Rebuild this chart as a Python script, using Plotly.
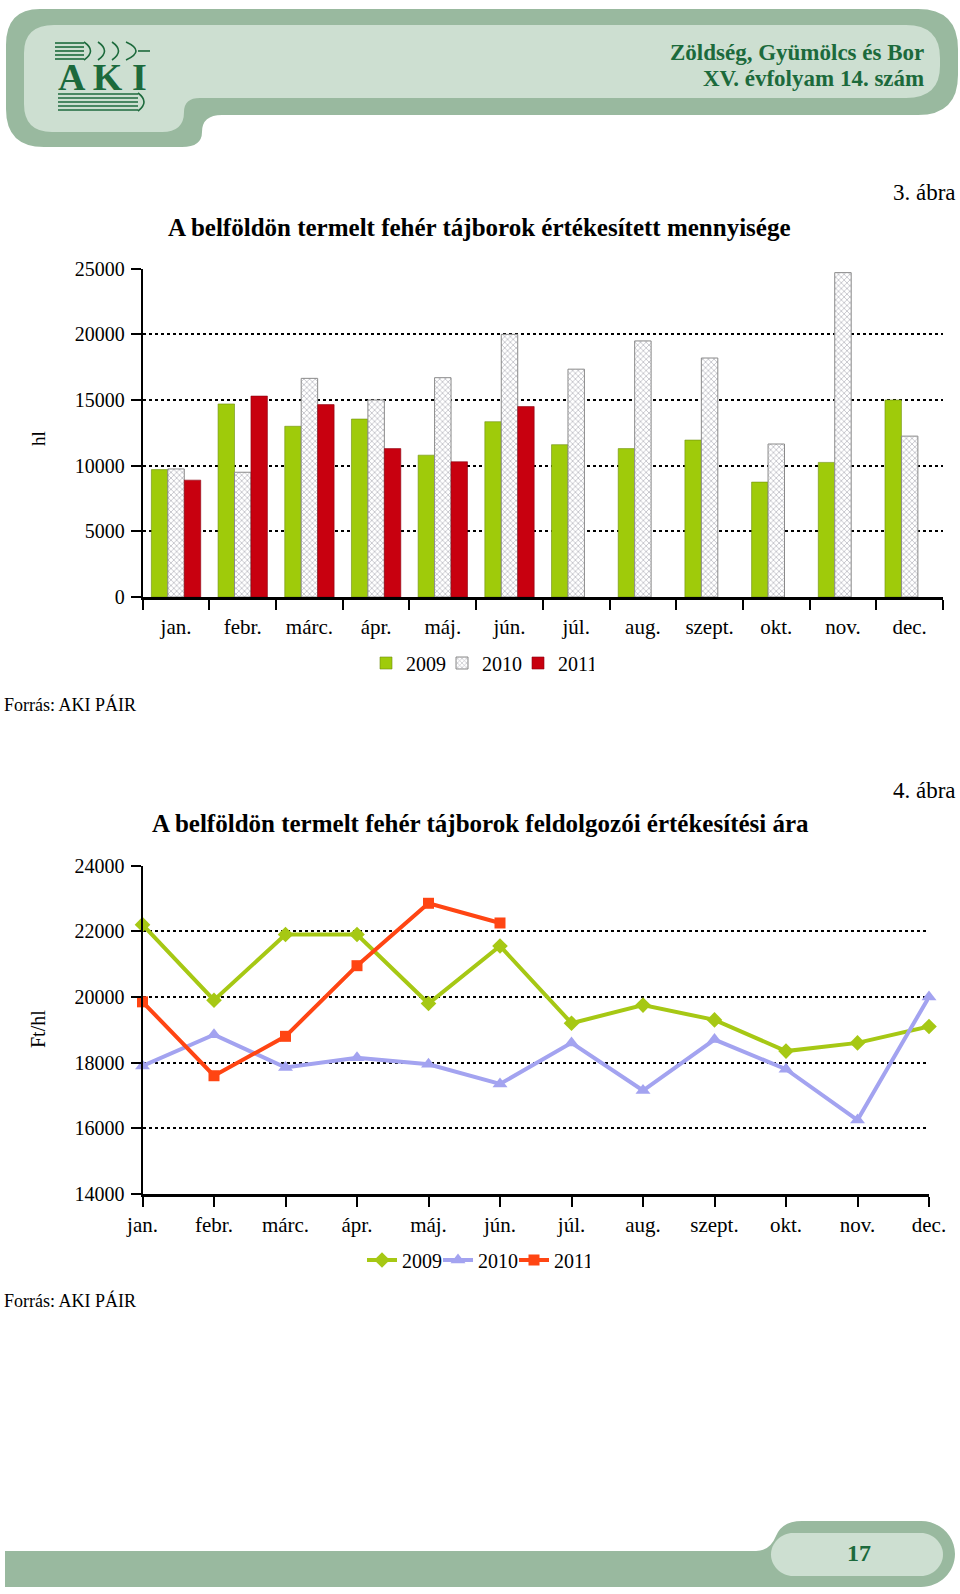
import plotly.graph_objects as go

# ---------------- data ----------------
months = ["jan.", "febr.", "márc.", "ápr.", "máj.", "jún.", "júl.", "aug.",
          "szept.", "okt.", "nov.", "dec."]
years = ["2009", "2010", "2011"]

vol_2009 = [9700, 14700, 13000, 13550, 10800, 13350, 11600, 11300, 11950, 8750, 10250, 15000]
vol_2010 = [9750, 9500, 16650, 15000, 16700, 20000, 17350, 19500, 18200, 11650, 24700, 12250]
vol_2011 = [8900, 15300, 14650, 11300, 10300, 14500, None, None, None, None, None, None]

price_2009 = [22200, 19900, 21900, 21900, 19800, 21550, 19200, 19750, 19300, 18350, 18600, 19100]
price_2010 = [17900, 18850, 17850, 18150, 17950, 17350, 18600, 17150, 18700, 17800, 16250, 20000]
price_2011 = [19850, 17600, 18800, 20950, 22850, 22250, None, None, None, None, None, None]

vol_ticks = [0, 5000, 10000, 15000, 20000, 25000]
price_ticks = [14000, 16000, 18000, 20000, 22000, 24000]

title1 = "A belföldön termelt fehér tájborok értékesített mennyisége"
title2 = "A belföldön termelt fehér tájborok feldolgozói értékesítési ára"

# ---------------- layout helpers ----------------
W, H = 960, 1594
FONT = "Liberation Serif"
DKGREEN = "#1c6a3c"
OUTER = "#99b99f"
INNER = "#cddfd1"


def fx(x):
    return x / W


def fy(y):
    return 1 - y / H


def path(cmds, close=True):
    s = ""
    for c in cmds:
        s += c[0]
        for (x, y) in c[1:]:
            s += f"{fx(x):.5f},{fy(y):.5f} "
    return s + ("Z" if close else "")


fig = go.Figure()

# ---------------- bar chart ----------------
fig.add_trace(go.Bar(x=months, y=vol_2009, name=years[0], legend="legend",
                     marker=dict(color="#9fcb0a", line=dict(color="#6f8f10", width=0.6)),
                     xaxis="x", yaxis="y"))
fig.add_trace(go.Bar(x=months, y=vol_2010, name=years[1], legend="legend",
                     marker=dict(color="white", line=dict(color="#8a8a8a", width=1),
                                 pattern=dict(shape="x", fgcolor="#5c5c6c", bgcolor="white",
                                              size=4, solidity=0.3)),
                     xaxis="x", yaxis="y"))
fig.add_trace(go.Bar(x=months, y=vol_2011, name=years[2], legend="legend",
                     marker=dict(color="#c8000f", line=dict(color="#8a0010", width=0.6)),
                     xaxis="x", yaxis="y"))

# ---------------- line chart ----------------
fig.add_trace(go.Scatter(x=months, y=price_2009, name=years[0], legend="legend2",
                         mode="lines+markers", cliponaxis=False,
                         line=dict(color="#a6c814", width=4),
                         marker=dict(symbol="diamond", size=12, color="#a6c814"),
                         xaxis="x2", yaxis="y2"))
fig.add_trace(go.Scatter(x=months, y=price_2010, name=years[1], legend="legend2",
                         mode="lines+markers", cliponaxis=False,
                         line=dict(color="#a3a3f0", width=4),
                         marker=dict(symbol="triangle-up", size=13, color="#a3a3f0"),
                         xaxis="x2", yaxis="y2"))
fig.add_trace(go.Scatter(x=months, y=price_2011, name=years[2], legend="legend2",
                         mode="lines+markers", cliponaxis=False,
                         line=dict(color="#ff4513", width=4),
                         marker=dict(symbol="square", size=11, color="#ff4513"),
                         xaxis="x2", yaxis="y2"))

tickfont = dict(family=FONT, size=20, color="black")
xtickfont = dict(family=FONT, size=21, color="black")

yaxis_common = dict(showgrid=True, gridcolor="black", gridwidth=2, griddash="dot",
                    showline=True, linecolor="black", linewidth=2, zeroline=False,
                    ticks="outside", ticklen=10, tickcolor="black", tickwidth=2,
                    tickfont=tickfont, ticklabelstandoff=2, fixedrange=True,
                    tickformat="d", automargin=False)
xaxis_common = dict(showgrid=False, showline=True, linecolor="black", linewidth=3,
                    ticks="outside", ticklen=10, tickcolor="black", tickwidth=2,
                    tickfont=xtickfont, zeroline=False, fixedrange=True, automargin=False)

legend_common = dict(orientation="h", xanchor="center", yanchor="middle",
                     font=dict(family=FONT, size=20, color="black"), itemwidth=30,
                     entrywidth=31, entrywidthmode="pixels",
                     bgcolor="rgba(0,0,0,0)", traceorder="normal")

fig.update_layout(
    width=W, height=H,
    margin=dict(l=0, r=0, t=0, b=0, pad=0, autoexpand=False),
    paper_bgcolor="white", plot_bgcolor="rgba(0,0,0,0)",
    font=dict(family=FONT, color="black"),
    barmode="group", bargap=0.26, bargroupgap=0,
    xaxis=dict(domain=[fx(142.7), fx(943)], anchor="y", type="category",
               categoryorder="array", categoryarray=months, tickson="boundaries",
               ticklabelstandoff=9, **xaxis_common),
    yaxis=dict(domain=[fy(597), fy(268.7)], anchor="x", range=[0, 25000],
               tickvals=vol_ticks, **yaxis_common),
    xaxis2=dict(domain=[fx(142.5), fx(929)], anchor="y2", type="category",
                categoryorder="array", categoryarray=months, range=[0, 11],
                **xaxis_common),
    yaxis2=dict(domain=[fy(1194), fy(865.5)], anchor="x2", range=[14000, 24000],
                tickvals=price_ticks, **yaxis_common),
    legend=dict(x=fx(480), y=fy(663), **legend_common),
    legend2=dict(x=fx(476), y=fy(1260), **legend_common),
)

# ---------------- decorations (header / footer) ----------------
shapes = []
header_outer = [("M", (40, 9)), ("L", (918, 9)), ("Q", (958, 9), (958, 49)), ("L", (958, 75)),
                ("Q", (958, 115), (918, 115)), ("L", (222, 115)), ("Q", (202, 115), (202, 132)),
                ("Q", (202, 147), (182, 147)), ("L", (44, 147)), ("Q", (6, 147), (6, 109)),
                ("L", (6, 45)), ("Q", (6, 9), (40, 9))]
header_inner = [("M", (54, 25)), ("L", (906, 25)), ("Q", (940, 25), (940, 58)), ("L", (940, 66)),
                ("Q", (940, 98), (906, 98)), ("L", (200, 98)), ("Q", (184, 98), (184, 112)),
                ("Q", (184, 132), (162, 132)), ("L", (52, 132)), ("Q", (24, 132), (24, 104)),
                ("L", (24, 53)), ("Q", (24, 25), (54, 25))]
footer_outer = [("M", (5, 1551)), ("L", (756, 1551)), ("Q", (770, 1551), (776, 1536)),
                ("Q", (782, 1521), (802, 1521)), ("L", (921, 1521)),
                ("C", (940, 1521), (955, 1536), (955, 1554)),
                ("C", (955, 1572), (940, 1587), (921, 1587)), ("L", (5, 1587))]
footer_inner = [("M", (793, 1533)), ("L", (921, 1533)), ("C", (933, 1533), (943, 1543), (943, 1554.5)),
                ("C", (943, 1566), (933, 1576), (921, 1576)), ("L", (793, 1576)),
                ("C", (781, 1576), (771, 1566), (771, 1554.5)), ("C", (771, 1543), (781, 1533), (793, 1533))]
for p, col in [(header_outer, OUTER), (header_inner, INNER), (footer_outer, OUTER), (footer_inner, INNER)]:
    shapes.append(dict(type="path", xref="paper", yref="paper", path=path(p),
                       fillcolor=col, line=dict(width=0), layer="below"))

# logo: wheat lines, chevrons, book lines
logo_line = dict(color=DKGREEN, width=1.6)
for yy in [43, 47, 51, 55, 59]:
    shapes.append(dict(type="path", xref="paper", yref="paper",
                       path=path([("M", (55, yy)), ("L", (84, yy))], close=False), line=logo_line))
for x0 in [84, 98, 112]:
    shapes.append(dict(type="path", xref="paper", yref="paper",
                       path=path([("M", (x0, 42)), ("Q", (x0 + 13, 51), (x0, 60))], close=False),
                       line=logo_line))
shapes.append(dict(type="path", xref="paper", yref="paper",
                   path=path([("M", (126, 42)), ("Q", (146, 51), (126, 60))], close=False), line=logo_line))
shapes.append(dict(type="path", xref="paper", yref="paper",
                   path=path([("M", (138, 51)), ("L", (150, 51))], close=False), line=logo_line))
for yy in [94, 98, 102, 106, 110]:
    shapes.append(dict(type="path", xref="paper", yref="paper",
                       path=path([("M", (58, yy)), ("L", (138, yy))], close=False), line=logo_line))
shapes.append(dict(type="path", xref="paper", yref="paper",
                   path=path([("M", (138, 93)), ("Q", (150, 102), (138, 111))], close=False), line=logo_line))
fig.update_layout(shapes=shapes)

# ---------------- texts ----------------
def ann(text, x, y, size, xanchor="center", bold=False, color="black", angle=0):
    if bold:
        text = f"<b>{text}</b>"
    fig.add_annotation(text=text, x=fx(x), y=fy(y), xref="paper", yref="paper",
                       xanchor=xanchor, yanchor="middle", showarrow=False, textangle=angle,
                       font=dict(family=FONT, size=size, color=color))


ann("Zöldség, Gyümölcs és Bor", 926, 52, 23, xanchor="right", bold=True, color=DKGREEN)
ann("XV. évfolyam 14. szám", 926, 78, 23, xanchor="right", bold=True, color=DKGREEN)
ann("A K I", 102, 77, 38, color=DKGREEN, bold=True)
ann("17", 859, 1553, 24, bold=True, color=DKGREEN)

ann("3. ábra", 958, 193, 23, xanchor="right")
ann(title1, 479, 227, 25, bold=True)
ann("hl", 38, 439, 19, angle=-90)
ann("Forrás: AKI PÁIR", 2, 704, 18, xanchor="left")

ann("4. ábra", 958, 790, 23, xanchor="right")
ann(title2, 480, 823, 25, bold=True)
ann("Ft/hl", 38, 1029, 20, angle=-90)
ann("Forrás: AKI PÁIR", 2, 1300, 18, xanchor="left")

fig.write_html(
    "out.html",
    config={"displayModeBar": False},
    post_script="document.body.style.margin='0px';document.body.style.overflow='hidden';"
                "document.documentElement.style.overflow='hidden';",
)
